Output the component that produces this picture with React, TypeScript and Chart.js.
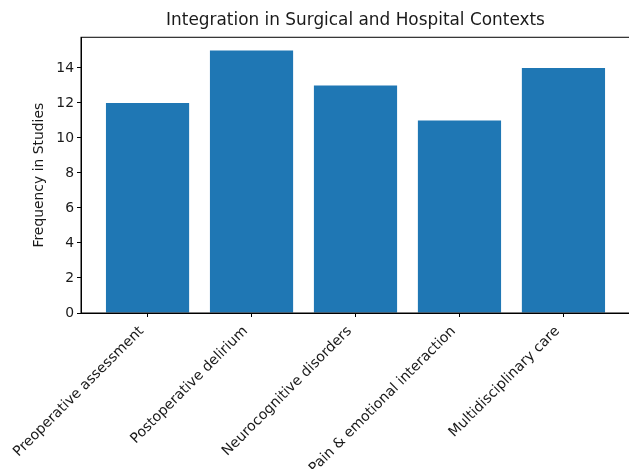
import React, { useEffect, useRef } from 'react';
import { Chart, registerables } from 'chart.js';

Chart.register(...registerables);

const categories = [
  'Preoperative assessment',
  'Postoperative delirium',
  'Neurocognitive disorders',
  'Pain & emotional interaction',
  'Multidisciplinary care',
];
const frequencies = [12, 15, 13, 11, 14];
const yTicks = [0, 2, 4, 6, 8, 10, 12, 14];
const chartTitle = 'Integration in Surgical and Hospital Contexts';
const yLabel = 'Frequency in Studies';

const W = 640;
const H = 469;
const FAMILY = '"DejaVu Sans", sans-serif';
const TEXT = '#1a1a1a';

export default function App() {
  const ref = useRef<HTMLCanvasElement>(null);
  useEffect(() => {
    document.body.style.margin = '0';
    const canvas = ref.current!;
    const frame = {
      id: 'frame',
      afterDatasetsDraw(chart: any) {
        const { ctx, chartArea: a } = chart;
        ctx.save();
        ctx.strokeStyle = '#000';
        ctx.lineWidth = 1;
        ctx.strokeRect(a.left, a.top, a.right - a.left, a.bottom - a.top);
        ctx.restore();
      },
    };
    const font = { family: FAMILY, size: 13.9, lineHeight: 1.2 };
    const xFont = { family: FAMILY, size: 14.1, lineHeight: 1.2 };
    const chart = new Chart(canvas, {
      type: 'bar',
      data: {
        datasets: [
          {
            data: frequencies.map((v, i) => ({ x: i, y: v })),
            backgroundColor: '#1f77b4',
            barPercentage: 0.8,
            categoryPercentage: 1,
          },
        ],
      },
      options: {
        responsive: false,
        animation: false,
        devicePixelRatio: 1,
        layout: { padding: { left: 0, right: W - 630, top: 0, bottom: 0 } },
        plugins: {
          legend: { display: false },
          tooltip: { enabled: false },
          title: {
            display: true,
            fullSize: false,
            text: chartTitle,
            color: TEXT,
            font: { family: FAMILY, size: 16.9, weight: 'normal', lineHeight: 1.2 },
            padding: { top: 10.5, bottom: 6.5 },
          },
        },
        scales: {
          x: {
            type: 'linear',
            offset: false,
            min: -0.64,
            max: 4.64,
            afterBuildTicks: (s: any) => {
              s.ticks = categories.map((_, i) => ({ value: i }));
            },
            afterFit: (s: any) => {
              s.height = H - 313;
              s.paddingLeft = 0;
              s.paddingRight = 0;
            },
            ticks: {
              callback: (v: any) => categories[v as number],
              minRotation: 45,
              maxRotation: 45,
              autoSkip: false,
              color: TEXT,
              font: xFont,
              padding: 6,
              labelOffset: -6,
            },
            grid: { offset: false, drawOnChartArea: false, tickLength: 4, color: '#000' },
            border: { color: '#000', width: 1 },
          },
          y: {
            min: 0,
            max: 15.75,
            afterBuildTicks: (s: any) => {
              s.ticks = yTicks.map((v) => ({ value: v }));
            },
            afterFit: (s: any) => {
              s.width = 81;
              s.paddingTop = 0;
              s.paddingBottom = 0;
            },
            ticks: { color: TEXT, font, padding: 3 },
            grid: { drawOnChartArea: false, tickLength: 4, color: '#000' },
            border: { color: '#000', width: 1 },
            title: {
              display: true,
              text: yLabel,
              color: TEXT,
              font,
              padding: { top: 31, bottom: 0 },
            },
          },
        },
      },
      plugins: [frame],
    });
    return () => chart.destroy();
  }, []);
  return (
    <div style={{ position: 'absolute', left: 0, top: 0, width: 629, height: 469, overflow: 'hidden' }}>
      <canvas ref={ref} width={W} height={H} style={{ width: W, height: H, display: 'block' }} />
    </div>
  );
}
